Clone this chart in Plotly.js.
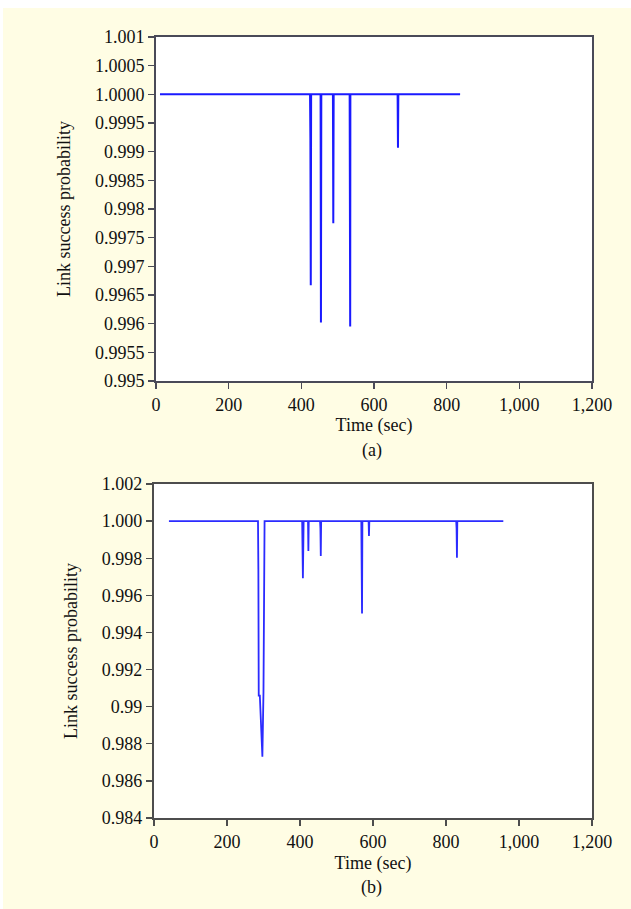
<!DOCTYPE html>
<html>
<head>
<meta charset="utf-8">
<script src="https://cdn.plot.ly/plotly-3.0.1.min.js"></script>
<style>
  html, body { margin: 0; padding: 0; background: #ffffff; width: 631px; height: 909px; overflow: hidden; }
  #chart { position: absolute; left: 3px; top: 8px; width: 628px; height: 901px; }
</style>
</head>
<body>
<div id="chart"></div>
<script>
// ---- Data: panel (a) ----
var timeA = [11, 424, 425, 426, 427, 453, 454, 455, 487, 488, 489, 533, 534, 534.5, 535, 665, 666, 667, 837];
var probA = [1.0, 1.0, 0.9992, 0.99667, 1.0, 1.0, 0.99602, 1.0, 1.0, 0.99775, 1.0, 1.0, 0.9963, 0.99595, 1.0, 1.0, 0.99907, 1.0, 1.0];

// ---- Data: panel (b) ----
var timeB = [41, 285, 286, 287, 290, 292, 297, 300, 302, 303,
             406, 407, 408, 409, 410, 422, 423, 424,
             455, 456, 457, 458, 568, 569, 570, 571, 588, 589, 590,
             828, 829, 830, 831, 957];
var probB = [1.0, 1.0, 0.9974, 0.9906, 0.9906, 0.9895, 0.9873, 0.9908, 0.9972, 1.0,
             1.0, 0.9985, 0.99692, 0.9985, 1.0, 1.0, 0.99839, 1.0,
             1.0, 0.9996, 0.99812, 1.0, 1.0, 0.9965, 0.99502, 1.0, 1.0, 0.9992, 1.0,
             1.0, 0.9996, 0.99803, 1.0, 1.0];

// ---- Tick labels ----
var xTickVals = [0, 200, 400, 600, 800, 1000, 1200];
var xTickText = ['0', '200', '400', '600', '800', '1,000', '1,200'];
var yTickValsA = [1.001, 1.0005, 1.0, 0.9995, 0.999, 0.9985, 0.998, 0.9975, 0.997, 0.9965, 0.996, 0.9955, 0.995];
var yTickTextA = ['1.001', '1.0005', '1.0000', '0.9995', '0.999', '0.9985', '0.998', '0.9975', '0.997', '0.9965', '0.996', '0.9955', '0.995'];
var yTickValsB = [1.002, 1.0, 0.998, 0.996, 0.994, 0.992, 0.99, 0.988, 0.986, 0.984];
var yTickTextB = ['1.002', '1.000', '0.998', '0.996', '0.994', '0.992', '0.99', '0.988', '0.986', '0.984'];

var fontFam = 'Liberation Serif, Times New Roman, serif';
var tickFont = {family: fontFam, size: 18, color: '#111111'};
var titleFont = {family: fontFam, size: 18, color: '#111111'};

function xAxis(domain, anchor, lc, so) {
  return {
    domain: domain, anchor: anchor, range: [0, 1200], fixedrange: true,
    tickmode: 'array', tickvals: xTickVals, ticktext: xTickText,
    ticks: 'outside', ticklen: 6, tickwidth: 1.4, tickcolor: lc,
    showline: true, mirror: true, linecolor: lc, linewidth: 2,
    showgrid: false, zeroline: false, tickfont: tickFont, automargin: false,
    title: {text: 'Time (sec)', font: titleFont, standoff: so}
  };
}
function yAxis(domain, anchor, range, vals, text, lc) {
  return {
    domain: domain, anchor: anchor, range: range, fixedrange: true,
    tickmode: 'array', tickvals: vals, ticktext: text,
    ticks: 'outside', ticklen: 6, tickwidth: 1.4, tickcolor: lc,
    showline: true, mirror: true, linecolor: lc, linewidth: 2,
    showgrid: false, zeroline: false, tickfont: tickFont, automargin: false,
    title: {text: 'Link success probability', font: titleFont, standoff: 20}
  };
}

var traces = [
  {x: timeA, y: probA, type: 'scatter', mode: 'lines', xaxis: 'x', yaxis: 'y',
   line: {color: '#1a1aff', width: 2}, hoverinfo: 'skip'},
  {x: timeB, y: probB, type: 'scatter', mode: 'lines', xaxis: 'x2', yaxis: 'y2',
   line: {color: '#2b2bff', width: 1.8}, hoverinfo: 'skip'}
];

var layout = {
  width: 628, height: 901,
  margin: {l: 0, r: 0, t: 0, b: 0},
  paper_bgcolor: '#FFFDE4', plot_bgcolor: '#ffffff',
  showlegend: false,
  xaxis: xAxis([0.2436, 0.9379], 'y', '#4a4a58', 5),
  yaxis: yAxis([0.586, 0.9678], 'x', [0.995, 1.001], yTickValsA, yTickTextA, '#4a4a58'),
  xaxis2: xAxis([0.2404, 0.9379], 'y2', '#4d4d4d', 6),
  yaxis2: yAxis([0.101, 0.4717], 'x2', [0.984, 1.002], yTickValsB, yTickTextB, '#4d4d4d'),
  annotations: [
    {text: '(a)', xref: 'paper', yref: 'paper', x: 0.5875, y: (901 - 442) / 901,
     xanchor: 'center', yanchor: 'middle', showarrow: false, font: titleFont},
    {text: '(b)', xref: 'paper', yref: 'paper', x: 0.5875, y: (901 - 879) / 901,
     xanchor: 'center', yanchor: 'middle', showarrow: false, font: titleFont}
  ]
};

Plotly.newPlot('chart', traces, layout, {displayModeBar: false, staticPlot: true});
</script>
</body>
</html>
